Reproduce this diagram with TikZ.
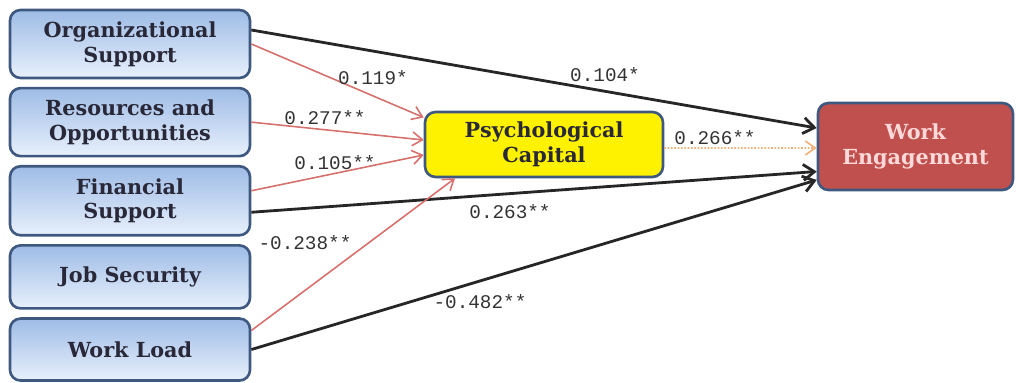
\documentclass[tikz,border=0pt]{standalone}
\usepackage{fontspec}
\setmainfont{DejaVu Serif}
\newfontfamily\coeffont{Liberation Mono}
\usepackage{tikz}
\usetikzlibrary{arrows.meta, positioning}

\definecolor{boxedge}{RGB}{62,88,128}
\definecolor{boxtop}{RGB}{158,188,230}
\definecolor{boxbot}{RGB}{232,240,252}
\definecolor{pathred}{RGB}{214,112,108}
\definecolor{pathorange}{RGB}{240,176,120}
\definecolor{engred}{RGB}{192,80,77}
\definecolor{boxtext}{RGB}{40,40,56}

\begin{document}
\begin{tikzpicture}[
  factor/.style={rectangle, rounded corners=6pt, draw=boxedge, line width=1.5pt, top color=boxtop, bottom color=boxbot, minimum width=4.8cm, minimum height=1.36cm, align=center, font=\bfseries\fontsize{11.8}{14.2}\selectfont, text=boxtext},
  mediator/.style={rectangle, rounded corners=6pt, draw=boxedge, line width=1.5pt, fill=yellow, minimum width=4.76cm, minimum height=1.3cm, align=center, font=\bfseries\fontsize{11.8}{14.2}\selectfont, text=boxtext},
  outcome/.style={rectangle, rounded corners=6pt, draw=boxedge, line width=1.5pt, fill=engred, minimum width=3.9cm, minimum height=1.74cm, align=center, font=\bfseries\fontsize{11.8}{14.2}\selectfont, text=white!85!red},
  direct/.style={-{Straight Barb[length=2.2mm, width=3.2mm]}, line width=1.6pt, black!85},
  indirect/.style={-{Straight Barb[length=2mm, width=2.8mm]}, line width=0.9pt, pathred},
  medpath/.style={-{Straight Barb[length=2mm, width=2.8mm]}, line width=0.9pt, pathorange, densely dotted},
  coef/.style={font=\coeffont\fontsize{11}{13}\selectfont, text=black!80}
]
\useasboundingbox (0,0) rectangle (20.32,-7.66);
\node[factor] (org) at (2.6,-0.88) {Organizational\\Support};
\node[factor, below=0.15cm of org] (res) {Resources and\\Opportunities};
\node[factor, below=0.15cm of res, minimum height=1.38cm] (fin) {Financial\\Support};
\node[factor, below=0.15cm of fin, minimum height=1.26cm] (job) {Job Security};
\node[factor, below=0.15cm of job, minimum height=1.24cm] (wl) {Work Load};
\node[mediator] (pc) at (10.88,-2.89) {Psychological\\Capital};
\node[outcome] (we) at (18.31,-2.93) {Work\\Engagement};
% direct effects
\draw[direct] ([yshift=0.28cm]org.east) -- ([yshift=0.37cm]we.west);
\draw[direct] ([yshift=-0.23cm]fin.east) -- ([yshift=-0.5cm]we.west);
\draw[direct] (wl.east) -- ([yshift=-0.67cm]we.west);
% paths to psychological capital
\draw[indirect] (org.east) -- ([yshift=0.54cm]pc.west);
\draw[indirect] (res.east) -- ([yshift=0.09cm]pc.west);
\draw[indirect] ([yshift=0.2cm]fin.east) -- ([yshift=-0.21cm]pc.west);
\draw[indirect] ([yshift=0.38cm]wl.east) -- ([xshift=-1.78cm]pc.south);
\draw[medpath] ([yshift=-0.07cm]pc.east) -- ([yshift=-0.03cm]we.west);
% coefficients
\node[coef] (c104) at (12.1,-1.5) {0.104*};
\node[coef] (c119) at (7.46,-1.56) {0.119*};
\node[coef] (c277) at (6.5,-2.36) {0.277**};
\node[coef] (c105) at (6.7,-3.26) {0.105**};
\node[coef] (c263) at (10.2,-4.24) {0.263**};
\node[coef] (c238) at (6.1,-4.86) {-0.238**};
\node[coef] (c482) at (9.6,-6.04) {-0.482**};
\node[coef] (c266) at (14.3,-2.76) {0.266**};
\end{tikzpicture}
\end{document}
